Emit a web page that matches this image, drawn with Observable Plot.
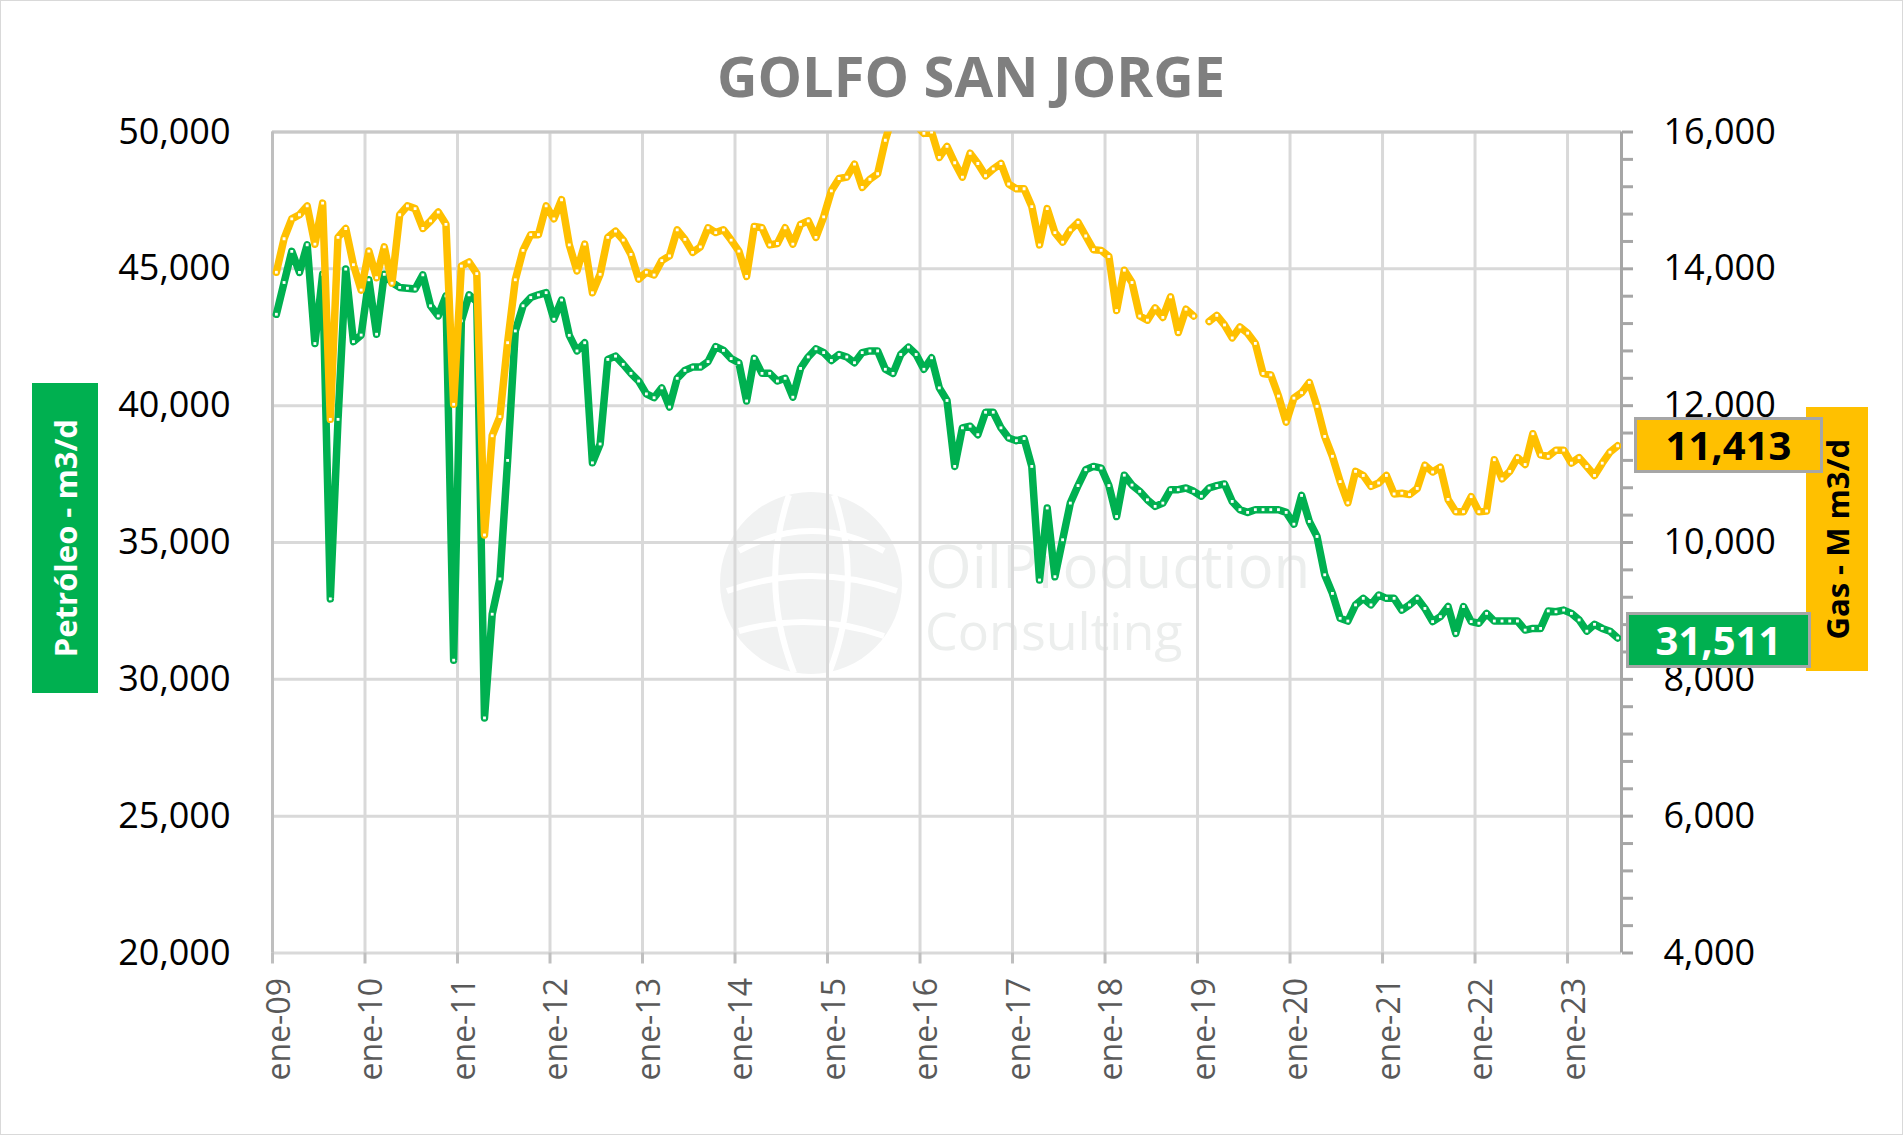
<!DOCTYPE html>
<html>
<head>
<meta charset="utf-8">
<script src="https://cdn.jsdelivr.net/npm/d3@7"></script>
<script src="https://cdn.jsdelivr.net/npm/@observablehq/plot@0.6"></script>
<style>
html, body { margin: 0; padding: 0; background: #ffffff; }
#wrap { position: relative; width: 1903px; height: 1135px; overflow: hidden; font-family: "Open Sans", sans-serif; background: #fff; }
#frame { position: absolute; left: 0; top: 0; width: 1901px; height: 1133px; border: 1px solid #d9d9d9; pointer-events: none; }
#title { position: absolute; left: 971px; top: 47px; transform: translateX(-50%); font-size: 56px; line-height: 56px; font-weight: 700; color: #7f7f7f; white-space: nowrap; }
#chart { position: absolute; left: 0; top: 110px; }
.vbox { position: absolute; display: flex; align-items: center; justify-content: center; font-weight: 700; font-size: 31px; }
.vbox span { writing-mode: vertical-rl; transform: rotate(180deg); white-space: nowrap; }
.badge { position: absolute; box-sizing: border-box; border: 3px solid #a6a6a6; display: flex; align-items: center; justify-content: center; font-weight: 700; font-size: 40px; line-height: 1; }
.wm { position: absolute; color: #eceeed; white-space: nowrap; line-height: 62px; }
</style>
</head>
<body>
<div id="wrap">
  <svg id="logo" width="200" height="200" style="position:absolute;left:719px;top:491px;">
    <circle cx="92" cy="92" r="91" fill="#f1f2f2"/>
    <path d="M20 60 Q92 20 165 60 M8 100 Q92 70 178 100 M20 140 Q92 120 165 145 M70 4 Q40 92 75 182 M115 4 Q145 92 110 182" stroke="#ffffff" stroke-width="6" fill="none"/>
  </svg>
  <div class="wm" style="left:925px;top:534px;font-size:60px;">OilProduction<br><span style="font-size:52px;">Consulting</span></div>
  <div id="title">GOLFO SAN JORGE</div>
  <div id="chart"></div>
  <div class="vbox" style="left:32px;top:383px;width:66px;height:310px;background:#00B050;color:#ffffff;"><span>Petróleo - m3/d</span></div>
  <div class="vbox" style="left:1806px;top:407px;width:62px;height:264px;background:#FFC000;color:#000000;"><span>Gas - M m3/d</span></div>
  <div id="frame"></div>
</div>
<script>
// Monthly data, Jan 2009 .. Jul 2023
const oil = [
  43340,44500,45640,44870,45880,42270,44800,32940,39500,44990,42340,42580,
  44600,42610,44800,44500,44320,44290,44260,44780,43650,43280,44010,30700,
  43100,44050,43800,28590,32380,33670,38000,42730,43650,43950,44050,44130,
  43160,43860,42570,42000,42300,37910,38600,41690,41810,41510,41180,40900,
  40430,40290,40650,39950,41000,41290,41410,41410,41610,42160,42020,41720,
  41570,40170,41730,41180,41180,40900,41000,40310,41360,41780,42080,41940,
  41650,41870,41780,41570,41940,42000,42000,41330,41180,41870,42140,41870,
  41330,41750,40650,40190,37780,39190,39250,38940,39760,39760,39190,38820,
  38720,38800,37780,33630,36260,33750,35100,36440,37080,37660,37780,37720,
  37080,35950,37460,37100,36870,36560,36320,36440,36930,36930,36990,36870,
  36690,36990,37080,37140,36500,36200,36100,36200,36200,36200,36200,36100,
  35670,36720,35770,35220,33820,33140,32230,32130,32720,32960,32720,33080,
  32960,32960,32530,32720,32960,32590,32110,32290,32660,31680,32660,32110,
  32050,32410,32130,32130,32130,32130,31800,31860,31860,32500,32470,32530,
  32410,32170,31760,32010,31860,31760,31511
];
const gas = [
  13950,14440,14730,14790,14920,14360,14960,11800,14460,14590,14060,13690,
  14260,13870,14320,13790,14790,14920,14880,14590,14700,14830,14650,12020,
  14040,14100,13930,10110,11560,11840,12920,13840,14270,14500,14500,14920,
  14730,15010,14350,13970,14360,13650,13920,14460,14550,14420,14210,13850,
  13950,13910,14120,14190,14570,14430,14240,14320,14600,14530,14570,14420,
  14260,13890,14620,14600,14350,14370,14600,14360,14650,14700,14460,14760,
  15140,15320,15340,15530,15190,15310,15390,15880,16250,16400,16300,16100,
  15980,16000,15630,15790,15550,15340,15690,15540,15360,15460,15540,15240,
  15170,15170,14910,14350,14880,14530,14390,14570,14680,14480,14280,14270,
  14180,13390,13980,13800,13310,13250,13430,13290,13590,13070,13410,13310,
  null,13230,13320,13180,12990,13150,13060,12910,12470,12450,12140,11760,
  12110,12190,12340,11990,11550,11260,10890,10580,11040,10980,10820,10870,
  10980,10710,10720,10700,10790,11130,11030,11100,10630,10450,10450,10670,
  10450,10460,11210,10930,11040,11240,11140,11590,11280,11260,11350,11350,
  11160,11240,11110,10980,11160,11320,11413
];
const yearLabels = ["ene-09","ene-10","ene-11","ene-12","ene-13","ene-14","ene-15","ene-16","ene-17","ene-18","ene-19","ene-20","ene-21","ene-22","ene-23"];
const oilTicks = [20000, 25000, 30000, 35000, 40000, 45000, 50000];
const gasTicks = [4000, 6000, 8000, 10000, 12000, 14000, 16000];
const gasMinorTicks = d3.range(4000, 16001, 400);
const oilTitle = "Petróleo - m3/d";
const gasTitle = "Gas - M m3/d";

// map gas (right axis 4,000-16,000) onto the oil scale (20,000-50,000)
const gasToY = g => (g == null ? NaN : 20000 + (g - 4000) * 2.5);
const yToGas = y => (y - 20000) / 2.5 + 4000;

const rows = oil.map((v, i) => ({i, oil: v, gas: gas[i] == null ? NaN : gasToY(gas[i])}));
const yearTicks = yearLabels.map((_, k) => k * 12 - 0.5);
const fmt = d3.format(",");

const chart = Plot.plot({
  width: 1903,
  height: 1025,
  marginLeft: 272,
  marginRight: 282,
  marginTop: 21.5,
  marginBottom: 182.5,
  style: {background: "transparent", fontFamily: '"Open Sans", sans-serif', overflow: "visible"},
  x: {type: "linear", domain: [-0.5, oil.length - 0.5]},
  y: {domain: [20000, 50000]},
  marks: [
    Plot.gridY(oilTicks, {stroke: "#d9d9d9", strokeWidth: 3, strokeOpacity: 1}),
    Plot.gridX(yearTicks, {stroke: "#d9d9d9", strokeWidth: 3, strokeOpacity: 1}),
    Plot.ruleY([50000], {stroke: "#c8c8c8", strokeWidth: 3}),
    Plot.ruleX([-0.5], {stroke: "#bfbfbf", strokeWidth: 3}),
    Plot.ruleX([oil.length - 0.5], {stroke: "#a6a6a6", strokeWidth: 3}),
    Plot.axisY({ticks: oilTicks, tickSize: 0, tickPadding: 42, tickFormat: fmt, fontSize: 36, fill: "#000", label: null}),
    Plot.axisY({anchor: "right", ticks: gasTicks.map(gasToY), tickSize: 0, tickPadding: 42, tickFormat: y => fmt(Math.round(yToGas(y))), fontSize: 36, fill: "#000", label: null}),
    Plot.axisY({anchor: "right", ticks: gasMinorTicks.map(gasToY), tickSize: 11, tickPadding: 0, tickFormat: () => "", stroke: "#a6a6a6", strokeWidth: 3, label: null}),
    Plot.axisX({ticks: yearTicks, tickSize: 11, tickPadding: 0, tickFormat: () => "", stroke: "#bfbfbf", strokeWidth: 3, label: null}),
    Plot.axisX({ticks: yearTicks, tickSize: 0, tickPadding: 25, tickRotate: -90, dx: 7,
      tickFormat: d => yearLabels[Math.round((d + 0.5) / 12)], fontSize: 32, fill: "#595959", label: null}),
    Plot.line(rows, {x: "i", y: "oil", stroke: "#00B050", strokeWidth: 7.5, strokeLinejoin: "round", strokeLinecap: "round", clip: true}),
    Plot.dot(rows, {x: "i", y: "oil", symbol: "square", r: 1.6, fill: "#ffffff", stroke: "none", clip: true}),
    Plot.line(rows, {x: "i", y: "gas", stroke: "#FFC000", strokeWidth: 7.5, strokeLinejoin: "round", strokeLinecap: "round", clip: true}),
    Plot.dot(rows.filter(d => !isNaN(d.gas)), {x: "i", y: "gas", symbol: "square", r: 1.6, fill: "#ffffff", stroke: "none", clip: true})
  ]
});
document.getElementById("chart").appendChild(chart);

// end-value badges positioned with the chart's own scales
const sx = chart.scale("x"), sy = chart.scale("y");
const top0 = 110;
const xEnd = sx.apply(oil.length - 0.5);
const lastOil = oil[oil.length - 1];
const lastGas = gas[gas.length - 1];
function badge(text, left, width, cy, bg, color) {
  const d = document.createElement("div");
  d.className = "badge";
  d.style.left = left + "px";
  d.style.width = width + "px";
  d.style.height = "56px";
  d.style.top = (cy - 28) + "px";
  d.style.background = bg;
  d.style.color = color;
  d.textContent = text;
  document.getElementById("wrap").insertBefore(d, document.getElementById("frame"));
}
badge(fmt(lastGas), xEnd + 13, 189, top0 + sy.apply(gasToY(lastGas)), "#FFC000", "#000000");
badge(fmt(lastOil), xEnd + 5, 185, top0 + sy.apply(lastOil) + 3, "#00B050", "#ffffff");
</script>
</body>
</html>
